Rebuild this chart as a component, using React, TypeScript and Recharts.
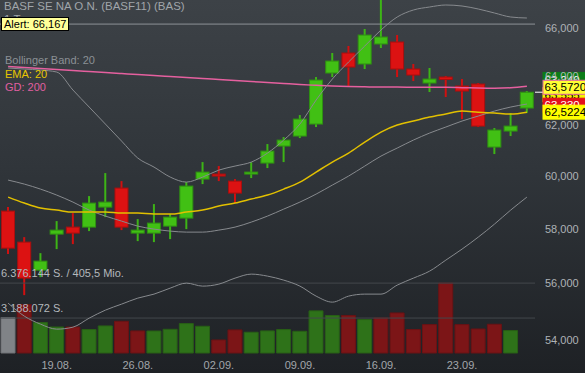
import React from "react";
import {
  ComposedChart,
  Bar,
  Line,
  XAxis,
  YAxis,
  ReferenceLine,
  Cell,
} from "recharts";

// trading days, 14.08. - 27.09.
const dates = [
  "14.08.", "15.08.", "16.08.", "19.08.", "20.08.", "21.08.", "22.08.", "23.08.",
  "26.08.", "27.08.", "28.08.", "29.08.", "30.08.", "02.09.", "03.09.", "04.09.",
  "05.09.", "06.09.", "09.09.", "10.09.", "11.09.", "12.09.", "13.09.", "16.09.",
  "17.09.", "18.09.", "19.09.", "20.09.", "23.09.", "24.09.", "25.09.", "26.09.",
  "27.09.",
];

const opens = [
  58668, 57509, 56482, 57806, 58067, 58067, 58819, 59543, 57843, 57843, 58104,
  58404, 59888, 60082, 59811, 60082, 60508, 61174, 61569, 62046, 64116, 64947,
  64489, 65324, 65408, 64281, 63705, 63951, 63582, 63664, 61135, 61767, 62688,
];
const highs = [
  58819, 57694, 57103, 58292, 58592, 59237, 60120, 59811, 58367, 58933, 58555,
  59773, 60547, 60392, 59888, 60547, 61253, 61529, 62406, 63951, 64947, 65240,
  65958, 67200, 65703, 64489, 64323, 63993, 63869, 63705, 61887, 62487, 63378,
];
const lows = [
  57067, 55581, 56228, 57251, 57435, 57918, 58442, 57955, 57546, 57509, 57620,
  57992, 59696, 59811, 58971, 59927, 60314, 60547, 61490, 61927, 63951, 63582,
  64281, 65156, 63951, 63787, 63337, 63133, 62246, 61927, 60860, 61569, 62487,
];
const closes = [
  57287, 56192, 56810, 57955, 57843, 58971, 59009, 58067, 57955, 58217, 58442,
  59619, 60159, 60004, 59351, 60159, 60977, 61410, 62246, 63828, 64613, 64364,
  65703, 65619, 64281, 64034, 63869, 63850, 63378, 61966, 61807, 61966, 63330,
];
const volumes = [
  3231500, 4418200, 2781300, 2372900, 2369400, 2141800, 2468700, 2893100,
  2012600, 2007900, 2163400, 2684200, 2437800, 1188500, 2103900, 1894200,
  2015700, 2138300, 1982400, 3843600, 3417800, 3424500, 3051200, 3196800,
  3652300, 2139600, 2592400, 6376144, 2587900, 2191300, 2621500, 2047700, null,
];

const bbUpper = [
  64323, 64281, 64240, 64157, 63419, 62729, 62046, 61371, 60703, 60353, 59966,
  59773, 59966, 60236, 60392, 60547, 60899, 61410, 62046, 63012, 63869, 64572,
  65240, 65915, 66469, 66769, 66898, 66984, 66941, 66812, 66640, 66469, 66426,
];
const bbMiddle = [
  59850, 59696, 59504, 59275, 59009, 58706, 58480, 58292, 58104, 57992, 57918,
  57880, 57880, 57955, 58067, 58254, 58480, 58743, 59009, 59313, 59658, 60004,
  60392, 60781, 61095, 61410, 61688, 61927, 62166, 62366, 62567, 62729, 62850,
];
const bbLower = [
  55295, 54835, 54553, 54378, 54448, 54764, 55047, 55260, 55474, 55617, 55832,
  56012, 55904, 55976, 56192, 56337, 56265, 56120, 55904, 55545, 55331, 55545,
  55617, 55617, 55940, 56192, 56446, 56847, 57251, 57694, 58179, 58706, 59199,
];
const ema20 = [
  59199, 58971, 58781, 58706, 58630, 58630, 58630, 58592, 58592, 58555, 58555,
  58630, 58706, 58857, 58971, 59123, 59275, 59504, 59773, 60159, 60547, 60899,
  61331, 61727, 62006, 62166, 62326, 62447, 62567, 62522, 62487, 62447, 62522,
];
const gd200 = [
  64385, 64344, 64302, 64261, 64219, 64178, 64137, 64096, 64055, 64013, 63972,
  63931, 63890, 63849, 63808, 63767, 63726, 63685, 63644, 63612, 63582, 63562,
  63550, 63541, 63541, 63533, 63529, 63529, 63517, 63500, 63492, 63509, 63572,
];

const weekTicks = ["19.08.", "26.08.", "02.09.", "09.09.", "16.09.", "23.09."];
const priceTicks = [54000, 56000, 58000, 60000, 62000, 64000, 66000];
const alertLevel = 66167;
const volumeLevels = [6376144, 3188072];
const volumeLevelTexts = ["6.376.144 S. / 405,5 Mio.", "3.188.072 S."];

const tagValues = [63240, 63555, 63330, 63572, 62522.4];
const tagTexts = ["63,240", "63,555", "63,330", "63,5720", "62,5224"];

// presentation of the right-hand price tags (stacked to avoid overlap)
const tagStyles = [
  { bg: "#0c7d18", fg: "#ffffff", border: "#0c7d18", shift: -15 },
  { bg: "#f2f200", fg: "#000000", border: "#f2f200", shift: 8 },
  { bg: "#e3101c", fg: "#ffffff", border: "#e3101c", shift: 13, marker: true },
  { bg: "#ffff33", fg: "#000000", border: "#e6609f", shift: 1 },
  { bg: "#ffff00", fg: "#000000", border: "#ffff00", shift: 0 },
];

const data = dates.map((date, i) => ({
  date,
  open: opens[i],
  high: highs[i],
  low: lows[i],
  close: closes[i],
  range: [lows[i], highs[i]],
  volume: volumes[i],
  bbUpper: bbUpper[i],
  bbMiddle: bbMiddle[i],
  bbLower: bbLower[i],
  ema: ema20[i],
  gd: gd200[i],
}));

const volumeColor = (i: number) => {
  if (i === 0) return { fill: "#808387", stroke: "#6e7175" };
  return closes[i] > closes[i - 1]
    ? { fill: "#2e7219", stroke: "#285f16" }
    : { fill: "#7c1517", stroke: "#691214" };
};

const Candle = (props: any) => {
  const { x, y, width, height, payload } = props;
  if (!payload) return null;
  const { open, close, high, low } = payload;
  const top = Math.min(y, y + height);
  const bottom = Math.max(y, y + height);
  const span = Math.log(high) - Math.log(low);
  // log axis: pixel position is linear in log(price)
  const py = (v: number) =>
    top + ((Math.log(high) - Math.log(v)) / span) * (bottom - top);
  const up = close >= open;
  const bodyTop = py(Math.max(open, close));
  const bodyBottom = py(Math.min(open, close));
  const cx = x + width / 2;
  const fill = up ? "#41c014" : "#dc1212";
  const edge = up ? "#2f9012" : "#a80f0f";
  return (
    <g>
      <line x1={cx} x2={cx} y1={top} y2={bottom} stroke={up ? "#3db416" : "#d01010"} strokeWidth={2} />
      <rect
        x={x + 0.5}
        y={bodyTop}
        width={width - 1}
        height={Math.max(bodyBottom - bodyTop, 2)}
        fill={fill}
        stroke={edge}
        strokeWidth={1}
      />
    </g>
  );
};

const PriceTag = ({ viewBox, index }: any) => {
  if (!viewBox) return null;
  const s = tagStyles[index];
  const cy = viewBox.y + s.shift;
  const left = viewBox.x + viewBox.width + 8;
  return (
    <g>
      {s.marker && (
        <line x1={viewBox.x + viewBox.width} x2={left} y1={viewBox.y} y2={viewBox.y} stroke="#ffffff" strokeWidth={1} />
      )}
      <rect x={left} y={cy - 7} width={44} height={14} fill={s.bg} stroke={s.border} strokeWidth={1} />
      <text x={left + 1.5} y={cy} dy="0.36em" fontSize={11.5} fill={s.fg}>
        {tagTexts[index]}
      </text>
    </g>
  );
};

const VolumeText = ({ viewBox, index }: any) => {
  if (!viewBox) return null;
  return (
    <text x={1} y={viewBox.y - 6} fontSize={11} fill="#b4b8bc">
      {volumeLevelTexts[index]}
    </text>
  );
};

export default function App() {
  return (
    <div
      style={{
        position: "absolute",
        left: 0,
        top: 0,
        width: 585,
        height: 373,
        background: "linear-gradient(180deg, #3d4247 0%, #30353a 45%, #1e2125 100%)",
        fontFamily: "Arial, 'Liberation Sans', sans-serif",
      }}
    >
      <ComposedChart
        width={585}
        height={373}
        data={data}
        margin={{ top: 0, right: 0, bottom: 0, left: 0 }}
      >
        <XAxis
          xAxisId="price"
          dataKey="date"
          ticks={weekTicks}
          interval={0}
          height={20}
          tickLine={false}
          axisLine={false}
          tick={{ fill: "#a2a6ab", fontSize: 11 }}
        />
        <XAxis xAxisId="vol" dataKey="date" hide />
        <YAxis
          yAxisId="price"
          orientation="right"
          width={50}
          scale="log"
          domain={[53550, 67200]}
          allowDataOverflow
          ticks={priceTicks}
          interval={0}
          tickLine={false}
          axisLine={false}
          tickMargin={4}
          tick={{ fill: "#aeb2b6", fontSize: 11, textAnchor: "start" }}
          tickFormatter={(v: number) => v.toLocaleString("en-US")}
        />
        <YAxis yAxisId="vol" hide domain={[0, 32200000]} />

        {volumeLevels.map((v, i) => (
          <ReferenceLine
            key={v}
            xAxisId="vol"
            yAxisId="vol"
            y={v}
            stroke="#43474c"
            strokeWidth={1}
            label={(p: any) => <VolumeText {...p} index={i} />}
          />
        ))}

        <Bar xAxisId="vol" yAxisId="vol" dataKey="volume" barSize={14} isAnimationActive={false}>
          {data.map((_, i) => {
            const c = volumeColor(i);
            return <Cell key={i} fill={c.fill} stroke={c.stroke} strokeWidth={1} />;
          })}
        </Bar>

        <ReferenceLine xAxisId="price" yAxisId="price" y={alertLevel} stroke="#8d9196" strokeWidth={1} />

        <Line xAxisId="price" yAxisId="price" dataKey="gd" type="monotone" stroke="#e5609f" strokeWidth={1.5} dot={false} activeDot={false} isAnimationActive={false} />
        <Line xAxisId="price" yAxisId="price" dataKey="bbUpper" type="monotone" stroke="#878a8e" strokeWidth={1} dot={false} activeDot={false} isAnimationActive={false} />
        <Line xAxisId="price" yAxisId="price" dataKey="bbMiddle" type="monotone" stroke="#878a8e" strokeWidth={1} dot={false} activeDot={false} isAnimationActive={false} />
        <Line xAxisId="price" yAxisId="price" dataKey="bbLower" type="monotone" stroke="#878a8e" strokeWidth={1} dot={false} activeDot={false} isAnimationActive={false} />
        <Line xAxisId="price" yAxisId="price" dataKey="ema" type="monotone" stroke="#e2c000" strokeWidth={1.5} dot={false} activeDot={false} isAnimationActive={false} />

        <Bar
          xAxisId="price"
          yAxisId="price"
          dataKey="range"
          barSize={14}
          shape={<Candle />}
          isAnimationActive={false}
        />

        {tagValues.map((v, i) => (
          <ReferenceLine
            key={tagTexts[i]}
            xAxisId="price"
            yAxisId="price"
            y={v}
            stroke="none"
            label={(p: any) => <PriceTag {...p} index={i} />}
          />
        ))}
      </ComposedChart>

      <div style={{ position: "absolute", left: 4, top: 0, fontSize: 11.5, color: "#a0a5aa", lineHeight: "13px" }}>
        BASF SE NA O.N. (BASF11) (BAS)
        <br />1 Tag
      </div>
      <div
        style={{
          position: "absolute",
          left: 1,
          top: 17,
          height: 12,
          lineHeight: "12px",
          padding: "0 2px",
          background: "#ffff99",
          border: "1px solid #000",
          fontSize: 11,
          color: "#000",
        }}
      >
        Alert: 66,167
      </div>
      <div style={{ position: "absolute", left: 5, top: 54, fontSize: 11, lineHeight: "13.5px" }}>
        <div style={{ color: "#8b9095" }}>Bollinger Band: 20</div>
        <div style={{ color: "#e8c600" }}>EMA: 20</div>
        <div style={{ color: "#e05fa0" }}>GD: 200</div>
      </div>
    </div>
  );
}
